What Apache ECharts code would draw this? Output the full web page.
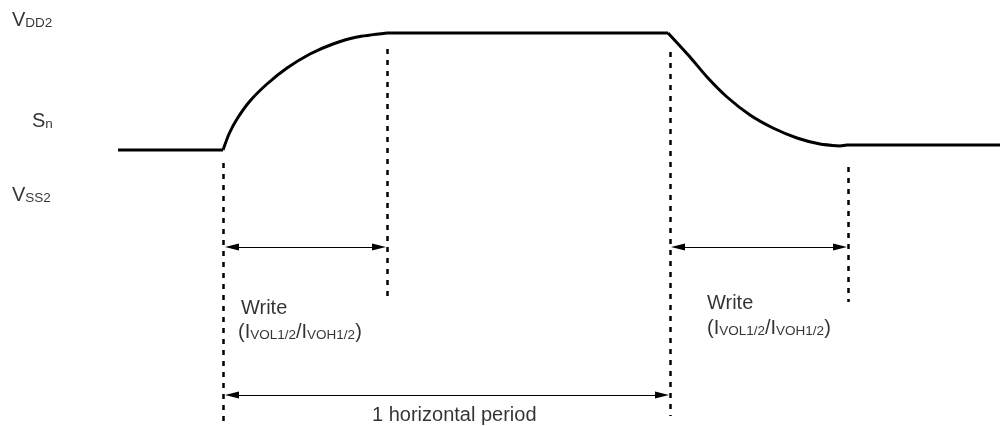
<!DOCTYPE html>
<html>
<head>
<meta charset="utf-8">
<script src="https://cdn.jsdelivr.net/npm/echarts@6/dist/echarts.min.js"></script>
<style>html,body{margin:0;padding:0;background:#fff}#c{width:1000px;height:426px}</style>
</head>
<body>
<div id="c"></div>
<script>
// Waveform of S_n (x: time, y: level position, top = VDD2)
var lowLeft = [[118,150],[223,150]];
var rise = [[223,150],[229,134],[237,119],[250,101],[267,84],[287,68],[310,54],[333,44],[357,37],[387,33]];
var high = [[387,33],[668,33]];
var fall = [[668,33],[690,57],[707,77],[727,97],[750,115],[773,128],[797,138],[820,144],[840,146]];
var lowRight = [[840,146],[847,145],[1000,145]];

// Timing markers (dashed verticals)
var markers = [
  [[223,163],[223,424]],
  [[387,49],[387,300]],
  [[670,52],[670,416]],
  [[848,167],[848,302]]
];
// Dimension arrows (tip to tip)
var arrows = [
  [[225,247],[386,247]],
  [[671,247],[847,247]],
  [[225,395],[669,395]]
];
// Labels: [x, y, text]
var levelLabels = [
  [12,19,'{m|V}{s|DD2}'],
  [32,120,'{m|S}{s|n}'],
  [12,194,'{m|V}{s|SS2}']
];
var noteLabels = [
  [241,307,'{m|Write}'],
  [238,331,'{m|(I}{s|VOL1/2}{m|/I}{s|VOH1/2}{m|)}'],
  [707,302,'{m|Write}'],
  [707,327,'{m|(I}{s|VOL1/2}{m|/I}{s|VOH1/2}{m|)}'],
  [372,414,'{m|1 horizontal period}']
];

var FONT = '"Liberation Sans", Arial, sans-serif';
var HEAD = [7, 14];
var rich = {
  m: {fontSize: 20, fontFamily: FONT, color: '#000', verticalAlign: 'bottom', lineHeight: 22},
  s: {fontSize: 13.5, fontFamily: FONT, color: '#000', verticalAlign: 'bottom', lineHeight: 20}
};
function curve(name, data, smooth) {
  return {type: 'line', name: name, data: data, smooth: smooth, symbol: 'none',
    lineStyle: {color: '#000', width: 3}, silent: true, animation: false, z: 3};
}
function labelSeries(arr) {
  return {type: 'scatter', symbolSize: 0, silent: true, animation: false,
    data: arr.map(function(d){return {value: [d[0], d[1]], label: {formatter: d[2]}};}),
    label: {show: true, position: 'right', distance: 0, rich: rich}};
}
var chart = echarts.init(document.getElementById('c'), null, {renderer: 'canvas'});
chart.setOption({
  animation: false,
  grid: {left: 0, right: 0, top: 0, bottom: 0},
  xAxis: {type: 'value', min: 0, max: 1000, show: false},
  yAxis: {type: 'value', min: 0, max: 426, inverse: true, show: false},
  series: [
    curve('lowLeft', lowLeft, false),
    curve('rise', rise, 0.2),
    curve('high', high, false),
    curve('fall', fall, 0.2),
    curve('lowRight', lowRight, false),
    {type: 'lines', coordinateSystem: 'cartesian2d', silent: true, animation: false,
      data: markers.map(function(m){return {coords: m};}),
      lineStyle: {color: '#000', width: 2.5, type: [5,6], opacity: 1}, symbol: 'none'},
    {type: 'lines', coordinateSystem: 'cartesian2d', silent: true, animation: false,
      // pull the line ends in by half a head so the tips land on the endpoints
      data: arrows.map(function(m){
        var dir = m[1][0] > m[0][0] ? 1 : -1;
        return {coords: [[m[0][0] + dir*HEAD[1]/2, m[0][1]], [m[1][0] - dir*HEAD[1]/2, m[1][1]]]};
      }),
      symbol: ['triangle','triangle'], symbolSize: [HEAD, HEAD],
      lineStyle: {color: '#000', width: 1, opacity: 1}},
    labelSeries(levelLabels),
    labelSeries(noteLabels)
  ]
});
</script>
</body>
</html>
